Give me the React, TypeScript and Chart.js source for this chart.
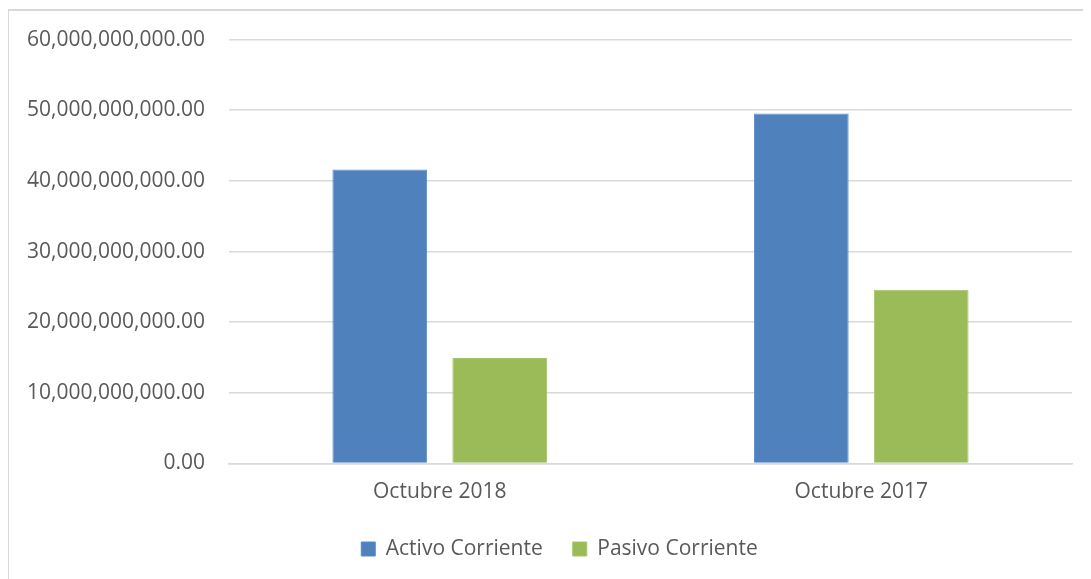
import React, { useEffect, useRef } from "react";
import { Chart, registerables } from "chart.js";

Chart.register(...registerables);

const categories = ["Octubre 2018", "Octubre 2017"];
const activoCorriente = [41.6e9, 49.55e9];
const pasivoCorriente = [14.93e9, 24.6e9];
const seriesNames = ["Activo Corriente", "Pasivo Corriente"];
const yMax = 60e9;
const yStep = 10e9;

const FONT = "'Open Sans', sans-serif";
const TEXT = "#595959";

const legendShift = {
  id: "legendShift",
  afterLayout(chart: any) {
    if (chart.legend) {
      chart.legend.left += 38;
    }
  },
};

export default function App() {
  const ref = useRef<HTMLCanvasElement | null>(null);

  useEffect(() => {
    document.body.style.overflow = "hidden";
    const ctx = ref.current!;
    const chart = new Chart(ctx, {
      type: "bar",
      data: {
        labels: categories,
        datasets: [
          {
            label: seriesNames[0],
            data: activoCorriente,
            backgroundColor: "#4F81BD",
            borderColor: "#5A8AC6",
            borderWidth: 1,
          },
          {
            label: seriesNames[1],
            data: pasivoCorriente,
            backgroundColor: "#9BBB59",
            borderColor: "#A6C46B",
            borderWidth: 1,
          },
        ],
      },
      plugins: [legendShift],
      options: {
        animation: false,
        responsive: false,
        maintainAspectRatio: false,
        datasets: {
          bar: { categoryPercentage: 0.569, barPercentage: 0.79 },
        },
        layout: { padding: { top: 20, right: 18, bottom: 33.5, left: 0 } },
        plugins: {
          tooltip: { enabled: false },
          legend: {
            position: "bottom",
            labels: {
              font: { family: FONT, size: 21 },
              color: TEXT,
              boxWidth: 14,
              boxHeight: 14,
              padding: 30,
            },
          },
        },
        scales: {
          x: {
            grid: { display: false, drawTicks: false },
            border: { display: true, color: "#d9d9d9", width: 1.5 },
            ticks: {
              font: { family: FONT, size: 21 },
              color: TEXT,
              padding: 16,
            },
            afterFit: (scale: any) => {
              scale.height = 45;
            },
          },
          y: {
            min: 0,
            max: yMax,
            border: { display: false },
            grid: { color: "#d9d9d9", lineWidth: 1.5, drawTicks: false },
            ticks: {
              stepSize: yStep,
              font: { family: FONT, size: 21 },
              color: TEXT,
              padding: 24,
              callback: (v: any) =>
                Number(v).toLocaleString("en-US", {
                  minimumFractionDigits: 2,
                  maximumFractionDigits: 2,
                }),
            },
            afterFit: (scale: any) => {
              scale.width = 220;
            },
          },
        },
      },
    });
    return () => chart.destroy();
  }, []);

  return (
    <div
      style={{
        position: "relative",
        top: 1,
        left: -1,
        width: 1100,
        height: 620,
        border: "2px solid #d9d9d9",
        boxSizing: "border-box",
        background: "#fff",
      }}
    >
      <canvas
        ref={ref}
        width={1081}
        height={600}
        style={{ display: "block", position: "relative", top: -8 }}
      />
    </div>
  );
}
